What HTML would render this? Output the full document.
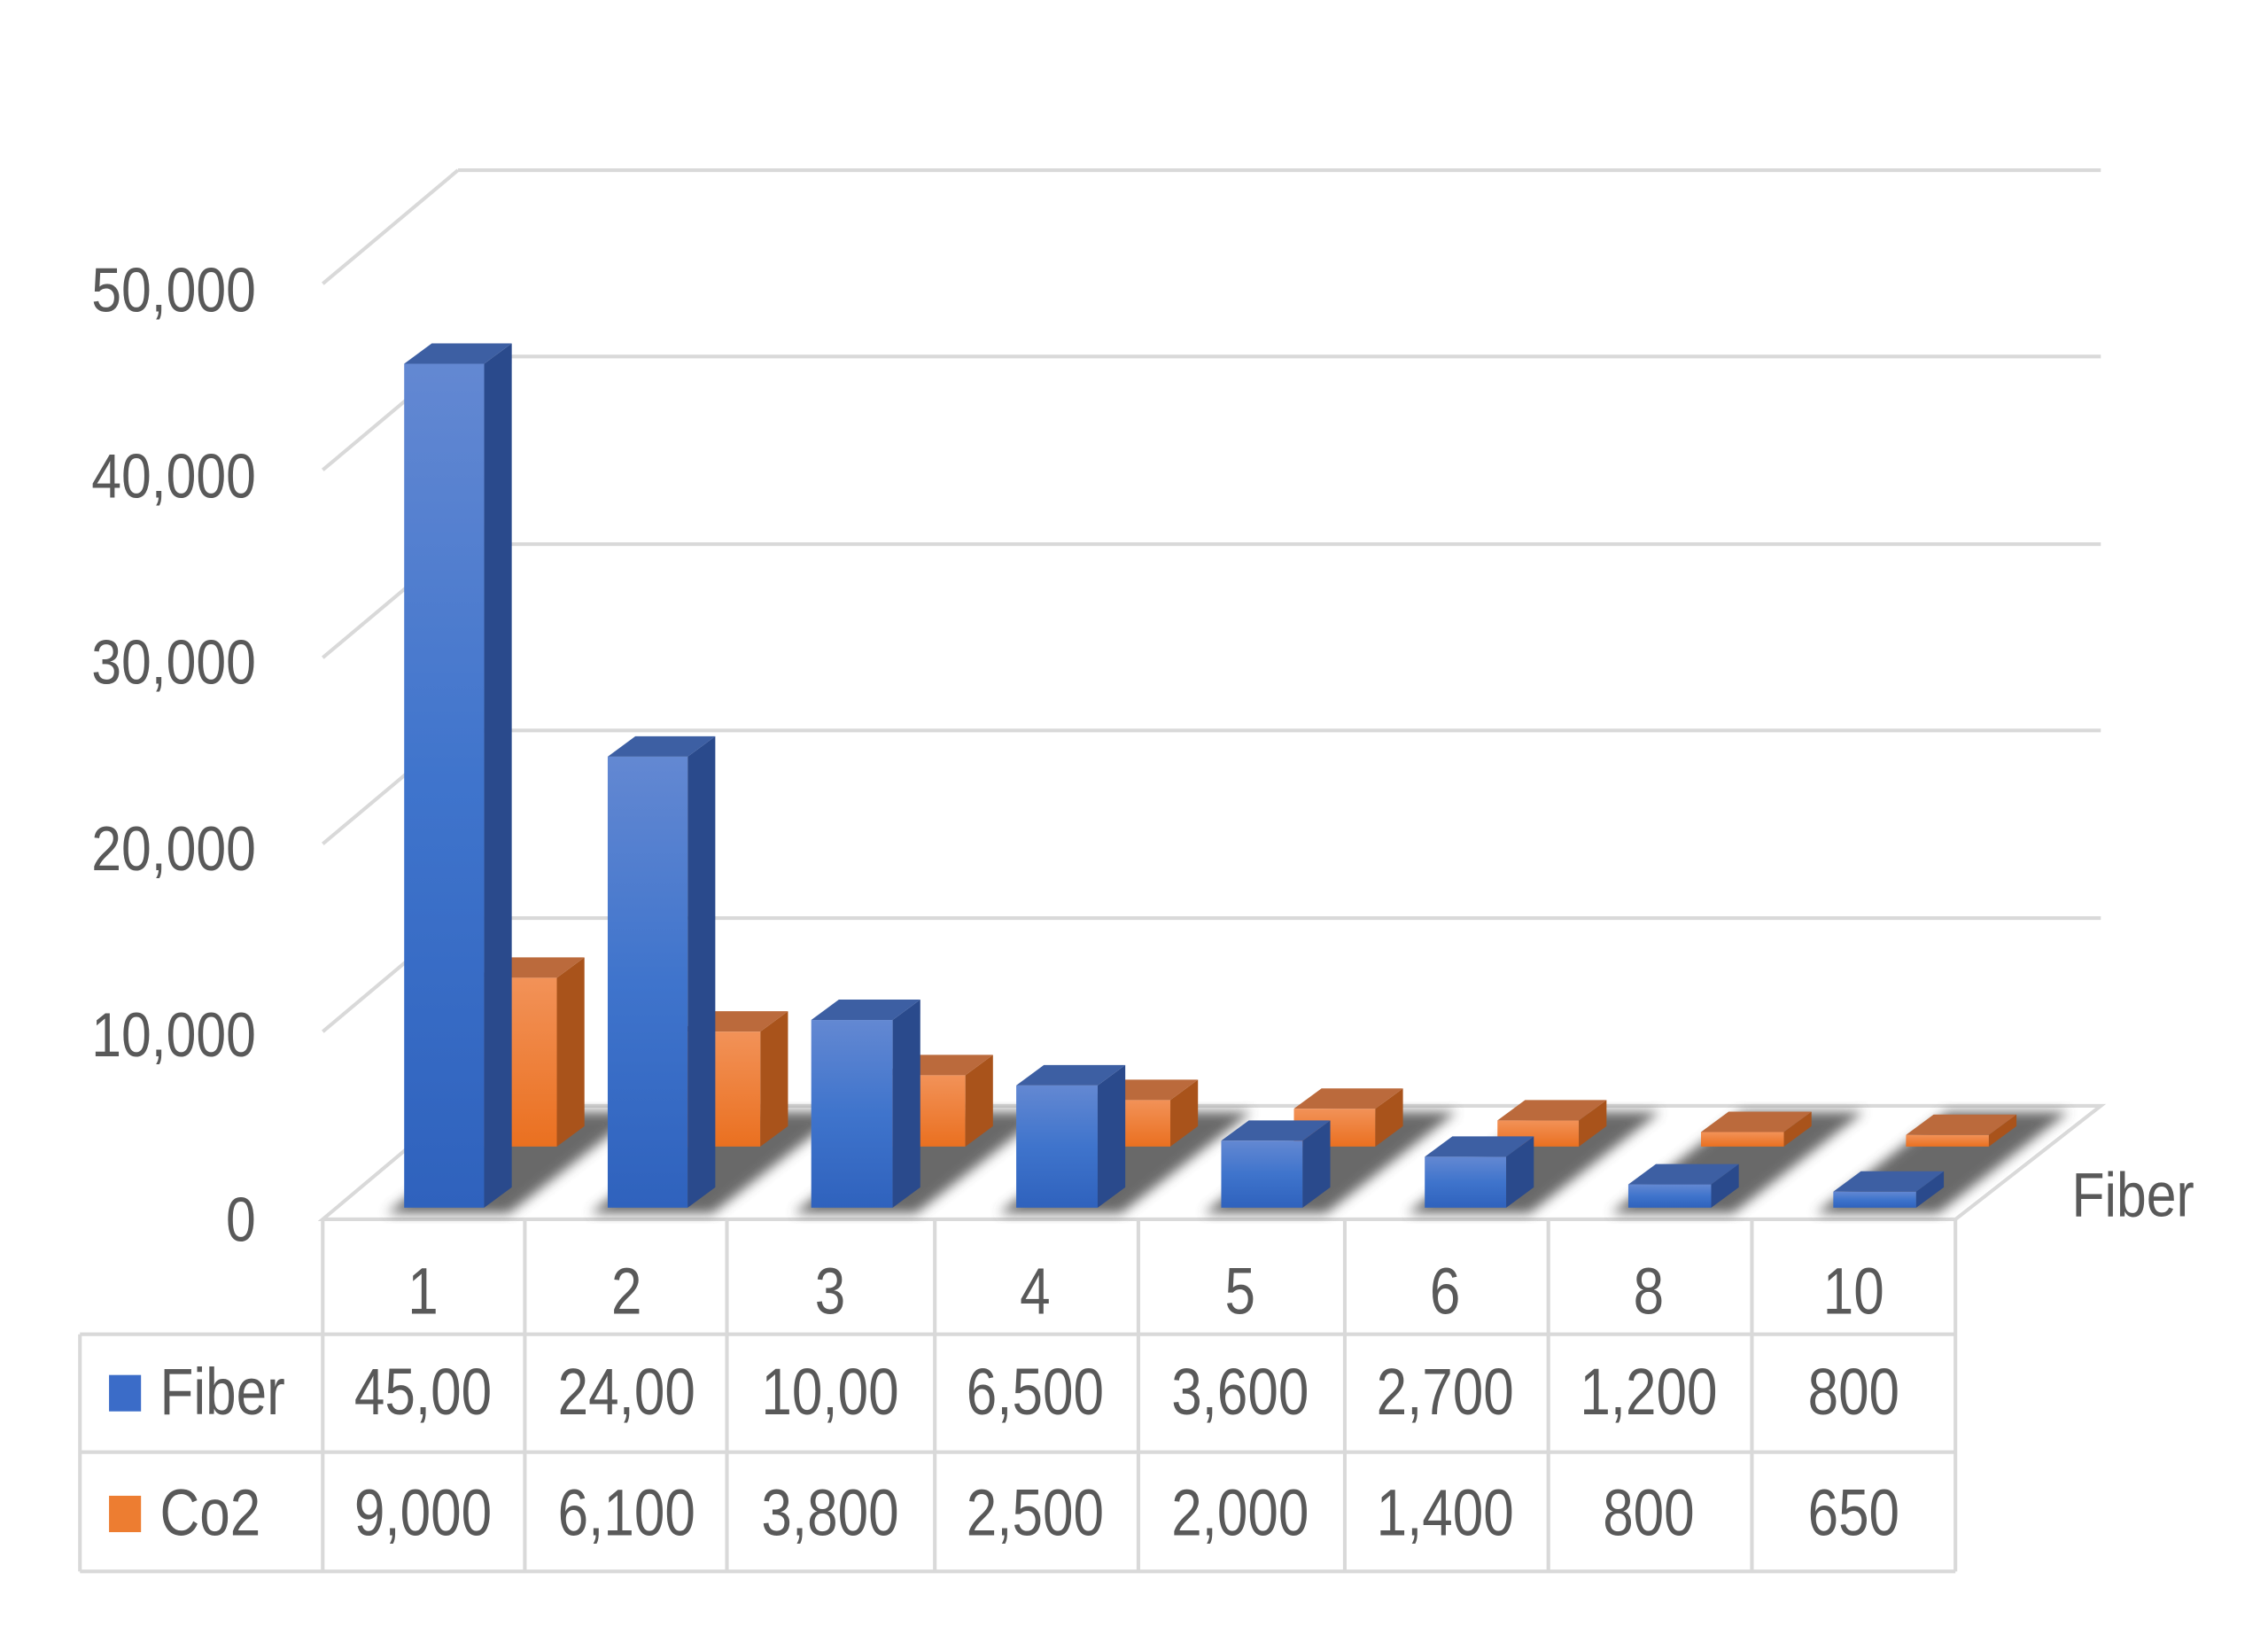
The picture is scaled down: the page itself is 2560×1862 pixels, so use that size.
<!DOCTYPE html>
<html><head><meta charset="utf-8"><style>
html,body{margin:0;padding:0;background:#fff;}
svg{display:block;}
text{font-family:"Liberation Sans",sans-serif;fill:#595959;}
</style></head><body>
<svg width="2560" height="1862" viewBox="0 0 1560 1134" preserveAspectRatio="none" xmlns="http://www.w3.org/2000/svg">
<defs>
<linearGradient id="bf" x1="0" y1="0" x2="0" y2="1"><stop offset="0" stop-color="#6388d2"/><stop offset="0.5" stop-color="#3f74cc"/><stop offset="1" stop-color="#2f62bd"/></linearGradient>
<linearGradient id="of" x1="0" y1="0" x2="0" y2="1"><stop offset="0" stop-color="#f29258"/><stop offset="1" stop-color="#ea7020"/></linearGradient>
<filter id="blur"><feGaussianBlur stdDeviation="4"/></filter>
</defs>
<g stroke="#d9d9d9" stroke-width="2.5" fill="none">
<line x1="315" y1="117" x2="1445" y2="117"/>
<line x1="315" y1="245" x2="1445" y2="245"/>
<line x1="315" y1="374" x2="1445" y2="374"/>
<line x1="315" y1="502" x2="1445" y2="502"/>
<line x1="315" y1="631" x2="1445" y2="631"/>
<line x1="315" y1="117" x2="222" y2="195"/>
<line x1="315" y1="245" x2="222" y2="323"/>
<line x1="315" y1="374" x2="222" y2="452"/>
<line x1="315" y1="502" x2="222" y2="580"/>
<line x1="315" y1="631" x2="222" y2="709"/>
<polygon points="222,838 1345,838 1445,760 315,760"/>
</g>
<g fill="#505050" filter="url(#blur)" opacity="0.85">
<polygon points="266,834 350,834 440,764 356,764"/>
<polygon points="406,834 490,834 580,764 496,764"/>
<polygon points="546,834 630,834 720,764 636,764"/>
<polygon points="687,834 771,834 861,764 777,764"/>
<polygon points="828,834 912,834 1002,764 918,764"/>
<polygon points="968,834 1052,834 1142,764 1058,764"/>
<polygon points="1108,834 1192,834 1282,764 1198,764"/>
<polygon points="1249,834 1333,834 1423,764 1339,764"/>
</g>
<g font-size="43" text-anchor="end">
<text transform="translate(176,214) scale(.86,1)">50,000</text>
<text transform="translate(176,342) scale(.86,1)">40,000</text>
<text transform="translate(176,470) scale(.86,1)">30,000</text>
<text transform="translate(176,598) scale(.86,1)">20,000</text>
<text transform="translate(176,726) scale(.86,1)">10,000</text>
<text transform="translate(176,853) scale(.86,1)">0</text>
</g>
<text transform="translate(1425,836) scale(.86,1)" font-size="43">Fiber</text>
<g stroke="#d9d9d9" stroke-width="2.5" fill="none">
<line x1="55" y1="917" x2="1345" y2="917"/>
<line x1="55" y1="998" x2="1345" y2="998"/>
<line x1="55" y1="1080" x2="1345" y2="1080"/>
<line x1="55" y1="917" x2="55" y2="1080"/>
<line x1="222" y1="838" x2="222" y2="1080"/>
<line x1="361" y1="838" x2="361" y2="1080"/>
<line x1="500" y1="838" x2="500" y2="1080"/>
<line x1="643" y1="838" x2="643" y2="1080"/>
<line x1="783" y1="838" x2="783" y2="1080"/>
<line x1="925" y1="838" x2="925" y2="1080"/>
<line x1="1065" y1="838" x2="1065" y2="1080"/>
<line x1="1205" y1="838" x2="1205" y2="1080"/>
<line x1="1345" y1="838" x2="1345" y2="1080"/>
</g>
<rect x="75" y="945" width="22" height="25" fill="#3b6cc8"/>
<rect x="75" y="1028" width="22" height="25" fill="#ed7d31"/>
<g font-size="45">
<text transform="translate(110,972) scale(.84,1)">Fiber</text>
<text transform="translate(110,1055) scale(.84,1)">Co2</text>
</g>
<g font-size="45" text-anchor="middle">
<text transform="translate(291,903) scale(.84,1)">1</text><text transform="translate(431,903) scale(.84,1)">2</text><text transform="translate(571,903) scale(.84,1)">3</text><text transform="translate(712,903) scale(.84,1)">4</text>
<text transform="translate(853,903) scale(.84,1)">5</text><text transform="translate(994,903) scale(.84,1)">6</text><text transform="translate(1134,903) scale(.84,1)">8</text><text transform="translate(1275,903) scale(.84,1)">10</text>
<text transform="translate(291,972) scale(.84,1)">45,00</text><text transform="translate(431,972) scale(.84,1)">24,00</text><text transform="translate(571,972) scale(.84,1)">10,00</text><text transform="translate(712,972) scale(.84,1)">6,500</text>
<text transform="translate(853,972) scale(.84,1)">3,600</text><text transform="translate(994,972) scale(.84,1)">2,700</text><text transform="translate(1134,972) scale(.84,1)">1,200</text><text transform="translate(1275,972) scale(.84,1)">800</text>
<text transform="translate(291,1055) scale(.84,1)">9,000</text><text transform="translate(431,1055) scale(.84,1)">6,100</text><text transform="translate(571,1055) scale(.84,1)">3,800</text><text transform="translate(712,1055) scale(.84,1)">2,500</text>
<text transform="translate(853,1055) scale(.84,1)">2,000</text><text transform="translate(994,1055) scale(.84,1)">1,400</text><text transform="translate(1134,1055) scale(.84,1)">800</text><text transform="translate(1275,1055) scale(.84,1)">650</text>
</g>
<g>
<rect x="328" y="672" width="55" height="116" fill="url(#of)"/><polygon points="383,672 402,658 402,774 383,788" fill="#a9531b"/><polygon points="328,672 347,658 402,658 383,672" fill="#bb6a3c"/>
<rect x="468" y="709" width="55" height="79" fill="url(#of)"/><polygon points="523,709 542,695 542,774 523,788" fill="#a9531b"/><polygon points="468,709 487,695 542,695 523,709" fill="#bb6a3c"/>
<rect x="608" y="739" width="56" height="49" fill="url(#of)"/><polygon points="664,739 683,725 683,774 664,788" fill="#a9531b"/><polygon points="608,739 627,725 683,725 664,739" fill="#bb6a3c"/>
<rect x="749" y="756" width="56" height="32" fill="url(#of)"/><polygon points="805,756 824,742 824,774 805,788" fill="#a9531b"/><polygon points="749,756 768,742 824,742 805,756" fill="#bb6a3c"/>
<rect x="890" y="762" width="56" height="26" fill="url(#of)"/><polygon points="946,762 965,748 965,774 946,788" fill="#a9531b"/><polygon points="890,762 909,748 965,748 946,762" fill="#bb6a3c"/>
<rect x="1030" y="770" width="56" height="18" fill="url(#of)"/><polygon points="1086,770 1105,756 1105,774 1086,788" fill="#a9531b"/><polygon points="1030,770 1049,756 1105,756 1086,770" fill="#bb6a3c"/>
<rect x="1170" y="778" width="57" height="10" fill="url(#of)"/><polygon points="1227,778 1246,764 1246,774 1227,788" fill="#a9531b"/><polygon points="1170,778 1189,764 1246,764 1227,778" fill="#bb6a3c"/>
<rect x="1311" y="780" width="57" height="8" fill="url(#of)"/><polygon points="1368,780 1387,766 1387,774 1368,788" fill="#a9531b"/><polygon points="1311,780 1330,766 1387,766 1368,780" fill="#bb6a3c"/>
<rect x="278" y="250" width="55" height="580" fill="url(#bf)"/><polygon points="333,250 352,236 352,816 333,830" fill="#2a4a8c"/><polygon points="278,250 297,236 352,236 333,250" fill="#3d5fa3"/>
<rect x="418" y="520" width="55" height="310" fill="url(#bf)"/><polygon points="473,520 492,506 492,816 473,830" fill="#2a4a8c"/><polygon points="418,520 437,506 492,506 473,520" fill="#3d5fa3"/>
<rect x="558" y="701" width="56" height="129" fill="url(#bf)"/><polygon points="614,701 633,687 633,816 614,830" fill="#2a4a8c"/><polygon points="558,701 577,687 633,687 614,701" fill="#3d5fa3"/>
<rect x="699" y="746" width="56" height="84" fill="url(#bf)"/><polygon points="755,746 774,732 774,816 755,830" fill="#2a4a8c"/><polygon points="699,746 718,732 774,732 755,746" fill="#3d5fa3"/>
<rect x="840" y="784" width="56" height="46" fill="url(#bf)"/><polygon points="896,784 915,770 915,816 896,830" fill="#2a4a8c"/><polygon points="840,784 859,770 915,770 896,784" fill="#3d5fa3"/>
<rect x="980" y="795" width="56" height="35" fill="url(#bf)"/><polygon points="1036,795 1055,781 1055,816 1036,830" fill="#2a4a8c"/><polygon points="980,795 999,781 1055,781 1036,795" fill="#3d5fa3"/>
<rect x="1120" y="814" width="57" height="16" fill="url(#bf)"/><polygon points="1177,814 1196,800 1196,816 1177,830" fill="#2a4a8c"/><polygon points="1120,814 1139,800 1196,800 1177,814" fill="#3d5fa3"/>
<rect x="1261" y="819" width="57" height="11" fill="url(#bf)"/><polygon points="1318,819 1337,805 1337,816 1318,830" fill="#2a4a8c"/><polygon points="1261,819 1280,805 1337,805 1318,819" fill="#3d5fa3"/>
</g>
</svg>
</body></html>
